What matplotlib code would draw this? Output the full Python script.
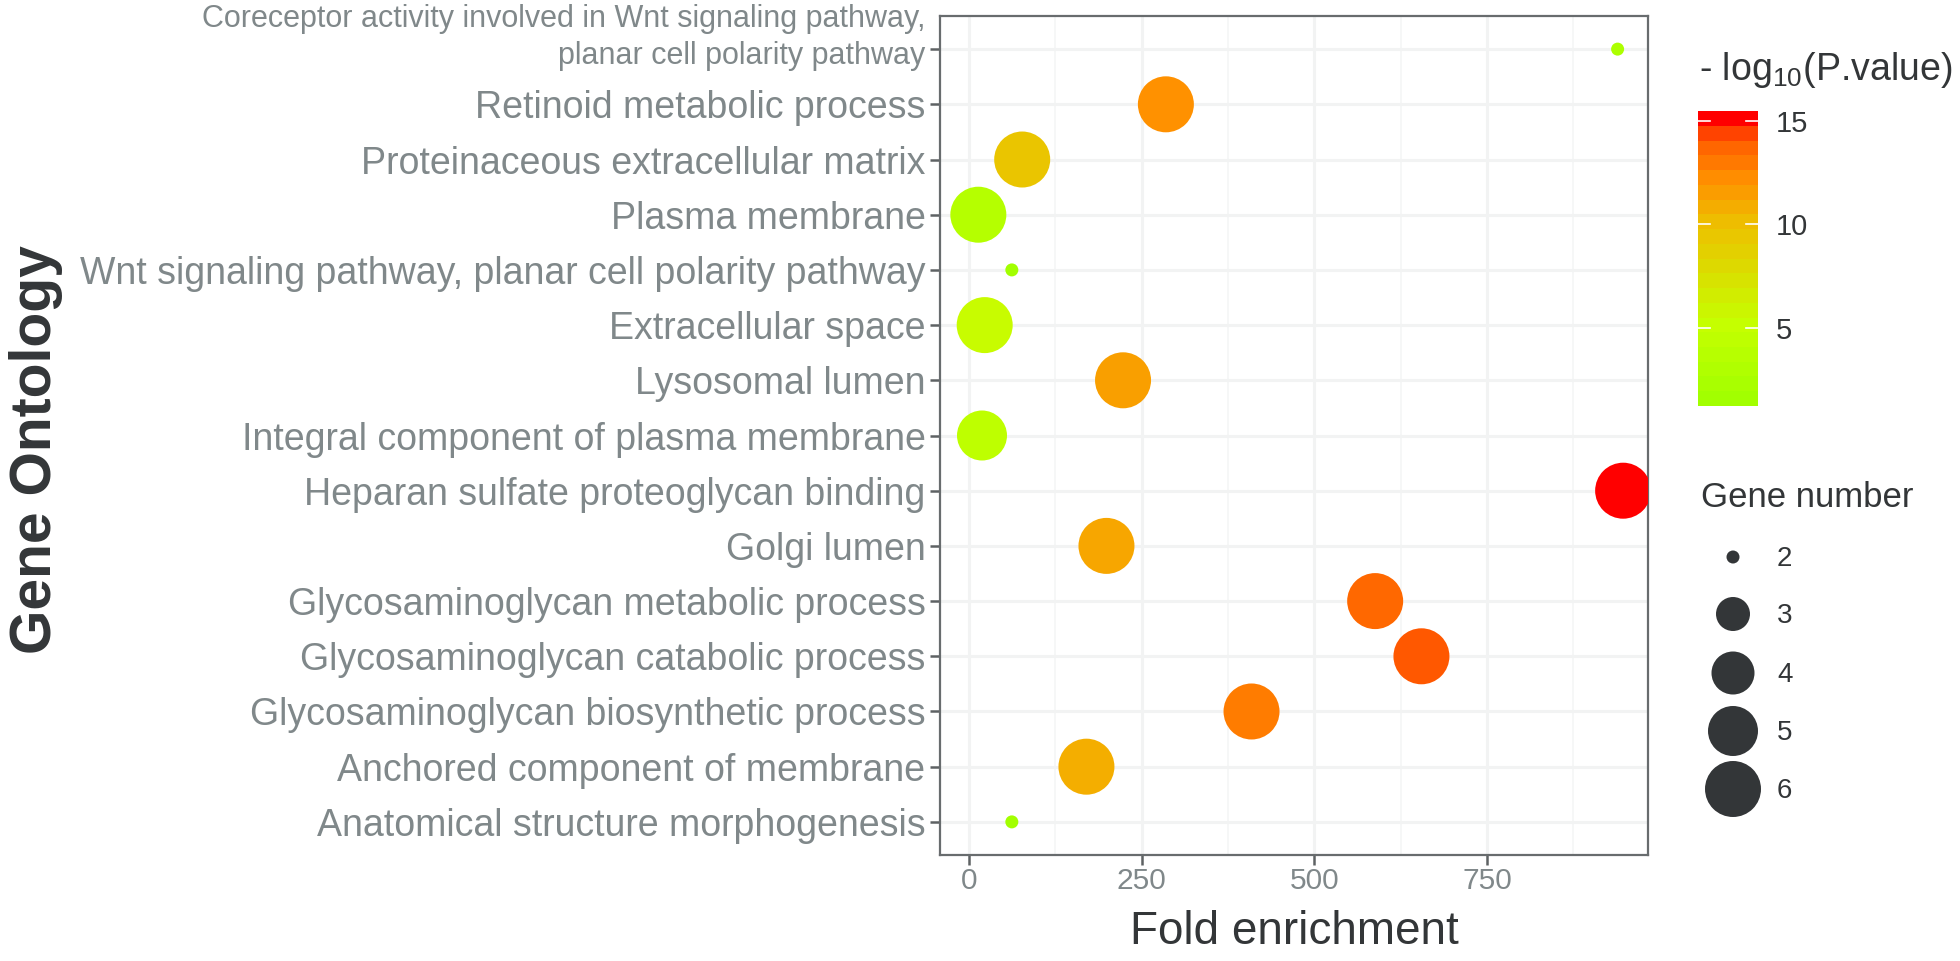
import matplotlib
matplotlib.use('Agg')
import matplotlib.pyplot as plt
import numpy as np
from matplotlib.colors import LinearSegmentedColormap, Normalize
from matplotlib.cm import ScalarMappable
from matplotlib.transforms import ScaledTranslation

plt.rcParams['font.family'] = ['Liberation Sans', 'DejaVu Sans']
plt.rcParams['mathtext.fontset'] = 'custom'
plt.rcParams['mathtext.rm'] = 'Liberation Sans'

# GO terms, listed top to bottom as in the figure
terms = ['Coreceptor activity involved in Wnt signaling pathway,\nplanar cell polarity pathway',
         'Retinoid metabolic process',
         'Proteinaceous extracellular matrix',
         'Plasma membrane',
         'Wnt signaling pathway, planar cell polarity pathway',
         'Extracellular space',
         'Lysosomal lumen',
         'Integral component of plasma membrane',
         'Heparan sulfate proteoglycan binding',
         'Golgi lumen',
         'Glycosaminoglycan metabolic process',
         'Glycosaminoglycan catabolic process',
         'Glycosaminoglycan biosynthetic process',
         'Anchored component of membrane',
         'Anatomical structure morphogenesis']
fold = [939, 285, 77, 13.5, 62, 22.7, 223, 18.8, 947, 199, 588, 655, 409, 170, 62]
logp = [2.3, 12.3, 9.6, 3.3, 1.2, 5.3, 11.6, 4.2, 15.5, 11.3, 13.9, 14.3, 13.1, 10.9, 1.2]
genes = [2, 6, 6, 6, 2, 6, 6, 5, 6, 6, 6, 6, 6, 6, 2]

size_breaks = [2, 3, 4, 5, 6]
cbar_ticks = [5, 10, 15]

# marker diameter (px)
diam_px = {2: 13, 3: 34, 4: 43, 5: 50, 6: 56}
def msize(n):
    return (diam_px[n] * 0.72) ** 2

cmap = LinearSegmentedColormap.from_list('pv', [
    (0.00, '#A2FF00'), (0.27, '#C6FF00'), (0.50, '#E0D400'),
    (0.62, '#EDC000'), (0.78, '#FF9000'), (0.90, '#FF6400'),
    (0.96, '#FF3A00'), (1.00, '#FF0000')])
norm = Normalize(vmin=min(logp), vmax=max(logp))

txt_grey = '#80888A'
txt_dark = '#333638'

fig = plt.figure(figsize=(19.6, 9.61), dpi=100)
ax = fig.add_axes([940 / 1960, 1 - 855 / 961, 708 / 1960, 839 / 961])

n = len(terms)
ypos = np.arange(n)[::-1]
ax.scatter(fold, ypos, s=[msize(g) for g in genes], c=logp, cmap=cmap, norm=norm,
           linewidths=0, zorder=3)

ax.set_xlim(-42, 983)
ax.set_ylim(-0.6, n - 0.4)
ax.set_xticks([0, 250, 500, 750])
ax.set_xticks([125, 375, 625, 875], minor=True)
ax.set_yticks(ypos)
ax.set_yticklabels(terms)
ax.grid(True, which='major', color='#F2F3F3', linewidth=2.2, zorder=0)
ax.grid(True, which='minor', axis='x', color='#F4F5F5', linewidth=1.1, zorder=0)
ax.set_axisbelow(True)
ax.tick_params(which='major', length=7, width=1.8, color='#5E6264', labelcolor=txt_grey)
ax.tick_params(which='minor', length=0)
ax.tick_params(axis='y', labelsize=27, pad=3.5)
ax.tick_params(axis='x', labelsize=21.5, pad=1.5)
for sp in ax.spines.values():
    sp.set_color('#686C6E')
    sp.set_linewidth(1.6)

# first label is two lines, smaller and sitting a bit higher
lab0 = ax.get_yticklabels()[0]
lab0.set_fontsize(22)
lab0.set_linespacing(1.32)
lab0.set_transform(lab0.get_transform() + ScaledTranslation(0, 0.19, fig.dpi_scale_trans))

fig.text(1294 / 1960, 1 - 944 / 961, 'Fold enrichment', fontsize=33, color=txt_dark,
         ha='center', va='baseline')
fig.text(36 / 1960, 1 - 450 / 961, 'Gene Ontology', rotation=90, fontsize=41,
         fontweight='bold', color=txt_dark, ha='center', va='center')

# colour bar
cax = fig.add_axes([1698 / 1960, 1 - 406 / 961, 60 / 1960, 295 / 961])
cb = fig.colorbar(ScalarMappable(norm=norm, cmap=cmap.resampled(20)), cax=cax)
cb.outline.set_visible(False)
cb.set_ticks(cbar_ticks)
cax.tick_params(length=0, pad=13, labelsize=21, labelcolor=txt_dark)
tr = cax.get_yaxis_transform()
for t in cbar_ticks:
    cax.plot([0, 0.2], [t, t], color='white', lw=1.2, transform=tr)
    cax.plot([0.8, 1], [t, t], color='white', lw=1.2, transform=tr)
fig.text(1699 / 1960, 1 - 80 / 961, '- log$_{10}$(P.value)', fontsize=27,
         color=txt_dark, ha='left', va='baseline')

# size legend
lax = fig.add_axes([0, 0, 1, 1], facecolor='none')
lax.set_xlim(0, 1960)
lax.set_ylim(961, 0)
lax.axis('off')
fig.text(1701 / 1960, 1 - 507 / 961, 'Gene number', fontsize=25, color=txt_dark,
         ha='left', va='baseline')
leg_y = [557, 614, 673, 731, 789]
lax.scatter([1733] * len(size_breaks), leg_y, s=[msize(g) for g in size_breaks],
            color='#333638', linewidths=0)
for yy, g in zip(leg_y, size_breaks):
    lax.text(1777, yy + 2, str(g), fontsize=20, color=txt_dark, ha='left', va='center')

fig.savefig('out.png', dpi=100)
